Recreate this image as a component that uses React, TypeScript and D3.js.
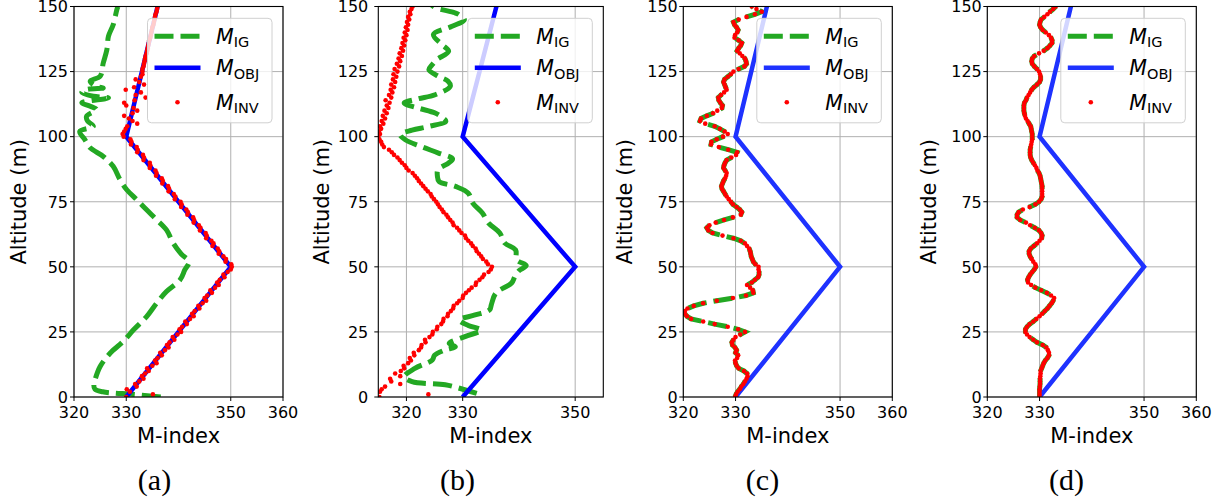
import React from 'react';
import * as d3 from 'd3';

// ---------------- data ----------------
const ALTITUDES = d3.range(0, 151); // sample altitudes (m) of M_INV
const OBJ_ALT = [0, 50, 100, 150];
const OBJ_M = [330, 350, 330, 336];
const X_TICKS = [320, 330, 350, 360];
const X_TICKS_B = [320, 330, 350];
const Y_TICKS = [0, 25, 50, 75, 100, 125, 150];
const CAPTIONS = ['(a)', '(b)', '(c)', '(d)'];

// M_IG of panel (a): [altitude, M]
const IG_A: [number, number][] = [
  [0, 336.6], [1, 331.5], [2, 325.5], [3, 324.0], [5, 323.8], [6.5, 324.0], [11.7, 325.0], [16.8, 326.9],
  [21.3, 329.4], [25.8, 331.4], [30.9, 333.9], [36, 335.8], [40.5, 337.7], [45, 340.3], [48.8, 341.2],
  [52, 342.0], [55, 340.5], [59.1, 339.0], [64.2, 337.7], [68.1, 335.8], [71.9, 333.9], [75.8, 332.0],
  [79.6, 330.1], [83.5, 328.8], [88.6, 327.5], [92.4, 325.6], [95.7, 323.1], [98.8, 322.1], [102, 321.1],
  [104, 323.7], [106, 322.6], [107.8, 322.4], [110.4, 324.3], [111.7, 323.1], [113, 321.5], [114.9, 326.6],
  [115.5, 323.7], [117, 321.5], [118.1, 322.4], [118.7, 325.6], [119.3, 324.3], [121.3, 323.1],
  [123.2, 325.0], [128.3, 325.6], [133.5, 326.3], [138.6, 326.6], [143, 327.5], [148.8, 328.2], [150, 328.4],
];

// M_IG of panel (b): [altitude, M]
const IG_B: [number, number][] = [
  [1.4, 332.5], [2.7, 330.5], [4.7, 326.9], [5.9, 321.0], [7.8, 319.6], [11, 321.5], [14.2, 324.6],
  [16, 325.0], [18.1, 326.9], [19.3, 328.7], [20.6, 327.6], [23.2, 330.4], [25.7, 333.3], [27.5, 331.0],
  [29.6, 329.4], [31.5, 332.2], [33.5, 334.8], [35.5, 335.1], [39.9, 335.9], [43.8, 338.7], [46.4, 339.3],
  [48.5, 340.0], [50.5, 341.3], [52.7, 339.6], [56.5, 339.4], [59.1, 337.5], [63, 336.6], [66.8, 334.6],
  [70.7, 333.5], [74.5, 331.8], [78.3, 331.0], [80.9, 328.7], [82.8, 325.8], [85, 325.5], [87.3, 325.6],
  [89.9, 327.5], [91.5, 328.2], [93.7, 325.7], [96.3, 322.5], [98.8, 319.8], [100.8, 318.9], [102.5, 321.0],
  [103.9, 323.9], [105.9, 327.0], [107.5, 326.3], [109.1, 325.1], [111.0, 322.1], [112.9, 319.6],
  [114.5, 322.0], [116.1, 325.1], [119.4, 327.8], [121.3, 327.4], [123.2, 325.7], [125.7, 324.0],
  [127.7, 324.6], [129.6, 325.4], [132.8, 327.5], [135.4, 326.3], [139.2, 324.8], [142.3, 328.0],
  [144.9, 330.3], [146.8, 329.4], [147.6, 328.6], [149.5, 325.2], [150.5, 324.5],
];

// M_INV per metre (0..150)
const INV_A = [
  330.0, 335.1, 330.7, 330.1, 332.0, 331.7, 332.5, 333.3, 333.0, 333.6,
  334.3, 334.0, 335.0, 335.8, 335.5, 336.0, 336.8, 336.5, 337.4, 338.1,
  337.8, 338.3, 339.2, 338.9, 339.8, 340.5, 340.2, 340.7, 341.6, 341.3,
  342.2, 342.9, 342.6, 343.1, 344.0, 343.8, 344.6, 345.3, 345.0, 345.5,
  346.4, 346.1, 347.0, 347.7, 347.4, 347.9, 348.8, 348.6, 349.4, 350.0,
  350.2, 350.1, 349.0, 349.1, 348.6, 347.7, 347.8, 347.5, 346.5, 346.7,
  346.3, 345.3, 345.4, 345.2, 344.1, 344.2, 343.9, 342.9, 343.0, 342.8,
  341.7, 341.8, 341.5, 340.5, 340.6, 340.4, 339.3, 339.4, 339.1, 338.1,
  338.2, 338.0, 336.9, 337.0, 336.8, 335.7, 335.8, 335.6, 334.5, 334.6,
  334.5, 333.3, 333.4, 333.2, 332.1, 332.2, 332.0, 330.9, 331.0, 330.8,
  329.5, 329.3, 329.6, 329.9, 330.2, 332.1, 331.2, 330.5, 329.6, 331.2,
  332.1, 331.4, 330.0, 329.6, 331.6, 333.7, 331.8, 332.8, 329.9, 331.5,
  333.4, 332.5, 331.8, 332.8, 333.1, 333.1, 333.1, 333.3, 333.4, 333.5,
  333.6, 333.7, 333.9, 334.0, 334.1, 334.2, 334.3, 334.4, 334.6, 334.7,
  334.8, 334.9, 335.0, 335.2, 335.3, 335.4, 335.5, 335.6, 335.8, 335.9,
  336.0,
];
const INV_B = [
  315.2, 323.9, 315.3, 315.6, 316.2, 318.9, 317.3, 317.1, 318.9, 318.0,
  319.0, 319.6, 319.5, 320.3, 320.8, 320.6, 321.4, 321.3, 322.2, 322.6,
  322.7, 323.4, 323.3, 324.1, 324.6, 324.7, 325.4, 325.5, 326.2, 326.5,
  326.6, 327.3, 327.4, 327.9, 328.3, 328.4, 329.0, 329.4, 330.0, 330.1,
  330.6, 331.1, 331.6, 332.3, 332.4, 333.0, 333.5, 333.8, 334.6, 335.0,
  335.2, 334.5, 334.2, 333.6, 333.3, 332.9, 332.5, 332.3, 331.8, 331.5,
  331.0, 330.6, 330.4, 329.8, 329.4, 329.0, 328.4, 328.2, 327.8, 327.4,
  327.1, 326.6, 326.3, 325.9, 325.6, 325.3, 324.9, 324.5, 324.3, 323.8,
  323.4, 323.0, 322.6, 322.2, 321.9, 321.5, 321.1, 320.4, 320.0, 319.7,
  319.2, 318.8, 318.4, 317.8, 317.4, 316.9, 316.0, 315.7, 315.5, 315.2,
  315.0, 315.3, 315.1, 315.5, 315.3, 315.9, 315.6, 316.2, 315.8, 316.5,
  316.1, 316.8, 316.5, 317.0, 316.3, 317.3, 316.9, 317.5, 317.2, 317.8,
  317.3, 318.0, 317.6, 318.2, 317.7, 318.4, 317.9, 318.7, 318.3, 318.9,
  318.6, 319.2, 318.8, 319.4, 319.1, 319.6, 319.3, 319.8, 319.5, 320.0,
  319.7, 320.2, 319.9, 320.3, 320.1, 320.5, 320.3, 320.7, 320.6, 320.9,
  321.1,
];
// panels (c) and (d): M_IG and M_INV coincide
const INV_C = [
  329.9, 330.1, 330.4, 330.8, 331.1, 331.5, 331.8, 332.1, 332.3, 332.2,
  331.6, 330.6, 330.2, 330.0, 329.9, 330.3, 330.5, 330.0, 330.2, 329.9,
  329.4, 329.3, 329.6, 330.0, 330.9, 331.8, 330.5, 328.5, 326.0, 323.8,
  321.5, 320.7, 320.3, 320.3, 320.8, 322.0, 323.8, 326.4, 329.5, 332.0,
  333.4, 333.3, 332.8, 332.2, 333.1, 333.7, 334.3, 334.5, 334.5, 334.4,
  334.4, 333.8, 333.4, 333.2, 333.0, 332.9, 332.8, 332.6, 332.2, 331.8,
  331.0, 329.6, 327.5, 325.6, 324.8, 324.5, 325.0, 326.2, 327.8, 329.5,
  331.0, 331.2, 330.8, 330.2, 329.5, 329.1, 328.7, 328.3, 328.0, 327.7,
  327.4, 327.3, 327.5, 327.7, 328.0, 328.2, 328.3, 328.0, 327.7, 327.8,
  328.0, 328.3, 329.2, 330.1, 330.3, 328.6, 326.8, 325.3, 325.4, 326.4,
  327.6, 328.5, 327.9, 327.0, 326.0, 324.2, 323.2, 323.4, 324.5, 325.7,
  326.5, 327.4, 327.5, 327.1, 326.8, 326.7, 327.2, 327.8, 328.3, 328.1,
  327.9, 327.7, 327.9, 328.5, 329.1, 329.6, 330.6, 331.7, 332.1, 332.0,
  331.8, 331.3, 330.8, 330.3, 330.6, 331.0, 331.2, 330.6, 329.8, 329.9,
  330.3, 330.5, 330.2, 329.8, 329.6, 330.6, 332.1, 333.7, 335.0, 334.0,
  333.1,
];
const INV_D = [
  330.0, 330.0, 330.0, 330.0, 330.05, 330.1, 330.1, 330.1, 330.15, 330.2,
  330.2, 330.4, 330.6, 330.8, 331.1, 331.5, 331.8, 331.8, 331.6, 331.3,
  330.6, 329.5, 328.8, 328.1, 327.6, 327.3, 327.3, 327.6, 328.1, 328.8,
  329.4, 330.0, 330.5, 331.0, 331.5, 331.9, 332.3, 332.6, 332.8, 332.2,
  331.4, 330.3, 329.2, 328.4, 327.8, 327.7, 327.9, 328.2, 328.6, 329.0,
  329.3, 329.2, 328.8, 328.5, 328.2, 328.0, 328.0, 328.3, 328.9, 329.5,
  330.0, 330.4, 330.5, 330.3, 329.9, 329.1, 328.2, 327.4, 326.3, 325.7,
  325.7, 326.0, 326.8, 328.1, 329.2, 329.9, 330.3, 330.5, 330.5, 330.5,
  330.5, 330.5, 330.4, 330.3, 330.2, 330.1, 329.9, 329.6, 329.4, 329.1,
  328.8, 328.5, 328.3, 328.2, 328.2, 328.2, 328.3, 328.4, 328.5, 328.6,
  328.6, 328.6, 328.5, 328.4, 328.3, 328.0, 327.7, 327.4, 327.2, 327.1,
  327.0, 327.0, 327.0, 327.1, 327.4, 327.6, 327.9, 328.2, 328.5, 328.9,
  329.5, 330.0, 330.2, 330.2, 330.1, 329.9, 329.5, 329.0, 328.6, 328.5,
  328.6, 329.0, 329.9, 330.8, 331.5, 332.0, 332.4, 332.4, 332.2, 331.8,
  331.2, 330.6, 330.2, 330.0, 330.1, 330.3, 330.9, 331.5, 332.0, 332.6,
  333.1,
];

// ---------------- layout ----------------
const GREEN = '#23a823';
const RED = '#ff0000';
const Y_BOTTOM = 397;
const Y_TOP = 6.5;
const FONT = '"DejaVu Sans", sans-serif';

type Panel = {
  left: number; right: number; domain: [number, number]; ticks: number[];
  ig: [number, number][]; inv: number[]; blue: string; smooth: boolean;
  yLabelX: number; tickGap: number; capX: number;
};

const toPairs = (vals: number[]): [number, number][] => ALTITUDES.map((a, i) => [a, vals[i]]);

const PANELS: Panel[] = [
  { left: 74, right: 283, domain: [320, 360], ticks: X_TICKS, ig: IG_A, inv: INV_A, blue: '#0000ff', smooth: true, yLabelX: 25.5, tickGap: 6, capX: 154.5 },
  { left: 378.3, right: 603.3, domain: [315, 355], ticks: X_TICKS_B, ig: IG_B, inv: INV_B, blue: '#0000ff', smooth: true, yLabelX: 329, tickGap: 10, capX: 457.5 },
  { left: 683.3, right: 892.3, domain: [320, 360], ticks: X_TICKS, ig: toPairs(INV_C), inv: INV_C, blue: '#1e32ff', smooth: false, yLabelX: 632, tickGap: 5.5, capX: 762.5 },
  { left: 987.3, right: 1196.3, domain: [320, 360], ticks: X_TICKS, ig: toPairs(INV_D), inv: INV_D, blue: '#1e32ff', smooth: false, yLabelX: 936, tickGap: 5.5, capX: 1066.5 },
];

const LegendLabel = ({ x, y, sub }: { x: number; y: number; sub: string }) => (
  <text x={x} y={y} fontFamily={FONT} fontSize={20.5} fill="#000">
    <tspan fontStyle="italic">M</tspan>
    <tspan fontSize={14.5} dy={3.5}>{sub}</tspan>
  </text>
);

function PanelView({ p, idx }: { p: Panel; idx: number }) {
  const x = d3.scaleLinear().domain(p.domain).range([p.left, p.right]);
  const y = d3.scaleLinear().domain([0, 150]).range([Y_BOTTOM, Y_TOP]);
  const igLine = d3.line<[number, number]>().x(d => x(d[1])).y(d => y(d[0]))
    .curve(p.smooth ? d3.curveCatmullRom.alpha(0.5) : d3.curveLinear);
  const line = d3.line<[number, number]>().x(d => x(d[1])).y(d => y(d[0]));
  const objPairs: [number, number][] = OBJ_ALT.map((a, i) => [a, OBJ_M[i]]);
  const clipId = `clip-${idx}`;
  const lw = 124.5, lh = 104.5;
  const lx = p.right - 11 - lw;
  const ly = 18.3;
  return (
    <g>
      <defs>
        <clipPath id={clipId}>
          <rect x={p.left} y={Y_TOP} width={p.right - p.left} height={Y_BOTTOM - Y_TOP} />
        </clipPath>
      </defs>
      <g stroke="#b0b0b0" strokeWidth={1}>
        {p.ticks.map(t => (
          <line key={'gx' + t} x1={x(t)} x2={x(t)} y1={Y_TOP} y2={Y_BOTTOM} />
        ))}
        {Y_TICKS.map(t => (
          <line key={'gy' + t} x1={p.left} x2={p.right} y1={y(t)} y2={y(t)} />
        ))}
      </g>
      <g clipPath={`url(#${clipId})`}>
        <path d={igLine(p.ig) || ''} fill="none" stroke={GREEN} strokeWidth={5} strokeDasharray="19,7" />
        <path d={line(objPairs) || ''} fill="none" stroke={p.blue} strokeWidth={4.5} strokeLinejoin="miter" />
        {ALTITUDES.map((a, i) => (
          <circle key={i} cx={x(p.inv[i])} cy={y(a)} r={2.3} fill={RED} />
        ))}
      </g>
      <rect x={p.left} y={Y_TOP} width={p.right - p.left} height={Y_BOTTOM - Y_TOP} fill="none" stroke="#000" strokeWidth={1.1} />
      <g stroke="#000" strokeWidth={1}>
        {p.ticks.map(t => (
          <line key={'tx' + t} x1={x(t)} x2={x(t)} y1={Y_BOTTOM} y2={Y_BOTTOM + 4} />
        ))}
        {Y_TICKS.map(t => (
          <line key={'ty' + t} x1={p.left - 4} x2={p.left} y1={y(t)} y2={y(t)} />
        ))}
      </g>
      <g fontFamily={FONT} fontSize={16} fill="#000">
        {p.ticks.map(t => (
          <text key={'lx' + t} x={x(t)} y={417.5} textAnchor="middle">{t}</text>
        ))}
        {Y_TICKS.map(t => (
          <text key={'ly' + t} x={p.left - p.tickGap} y={y(t)} dy="0.36em" textAnchor="end">{t}</text>
        ))}
      </g>
      <text x={(p.left + p.right) / 2} y={443} textAnchor="middle" fontFamily={FONT} fontSize={21}>M-index</text>
      <text transform={`translate(${p.yLabelX},${(Y_TOP + Y_BOTTOM) / 2}) rotate(-90)`} textAnchor="middle" fontFamily={FONT} fontSize={21}>Altitude (m)</text>
      <rect x={lx} y={ly} width={lw} height={lh} rx={4} fill="#fff" fillOpacity={0.8} stroke="#d0d0d0" strokeWidth={1} />
      <line x1={lx + 7} x2={lx + 53} y1={ly + 18} y2={ly + 18} stroke={GREEN} strokeWidth={5} strokeDasharray="19,7" />
      <line x1={lx + 7} x2={lx + 53} y1={ly + 49.5} y2={ly + 49.5} stroke={p.blue} strokeWidth={4.5} />
      <circle cx={lx + 30} cy={ly + 84} r={2.3} fill={RED} />
      <LegendLabel x={lx + 68.5} y={ly + 25.5} sub="IG" />
      <LegendLabel x={lx + 68.5} y={ly + 57} sub="OBJ" />
      <LegendLabel x={lx + 68.5} y={ly + 91.5} sub="INV" />
      <text x={p.capX} y={490} textAnchor="middle" fontFamily='"Liberation Serif", serif' fontSize={30}>{CAPTIONS[idx]}</text>
    </g>
  );
}

export default function App() {
  return (
    <svg width={1226} height={503} viewBox="0 0 1226 503"
      style={{ position: 'absolute', left: 0, top: 0, display: 'block', background: '#fff' }}>
      <rect x={0} y={0} width={1226} height={503} fill="#fff" />
      {PANELS.map((p, i) => <PanelView key={i} p={p} idx={i} />)}
    </svg>
  );
}
